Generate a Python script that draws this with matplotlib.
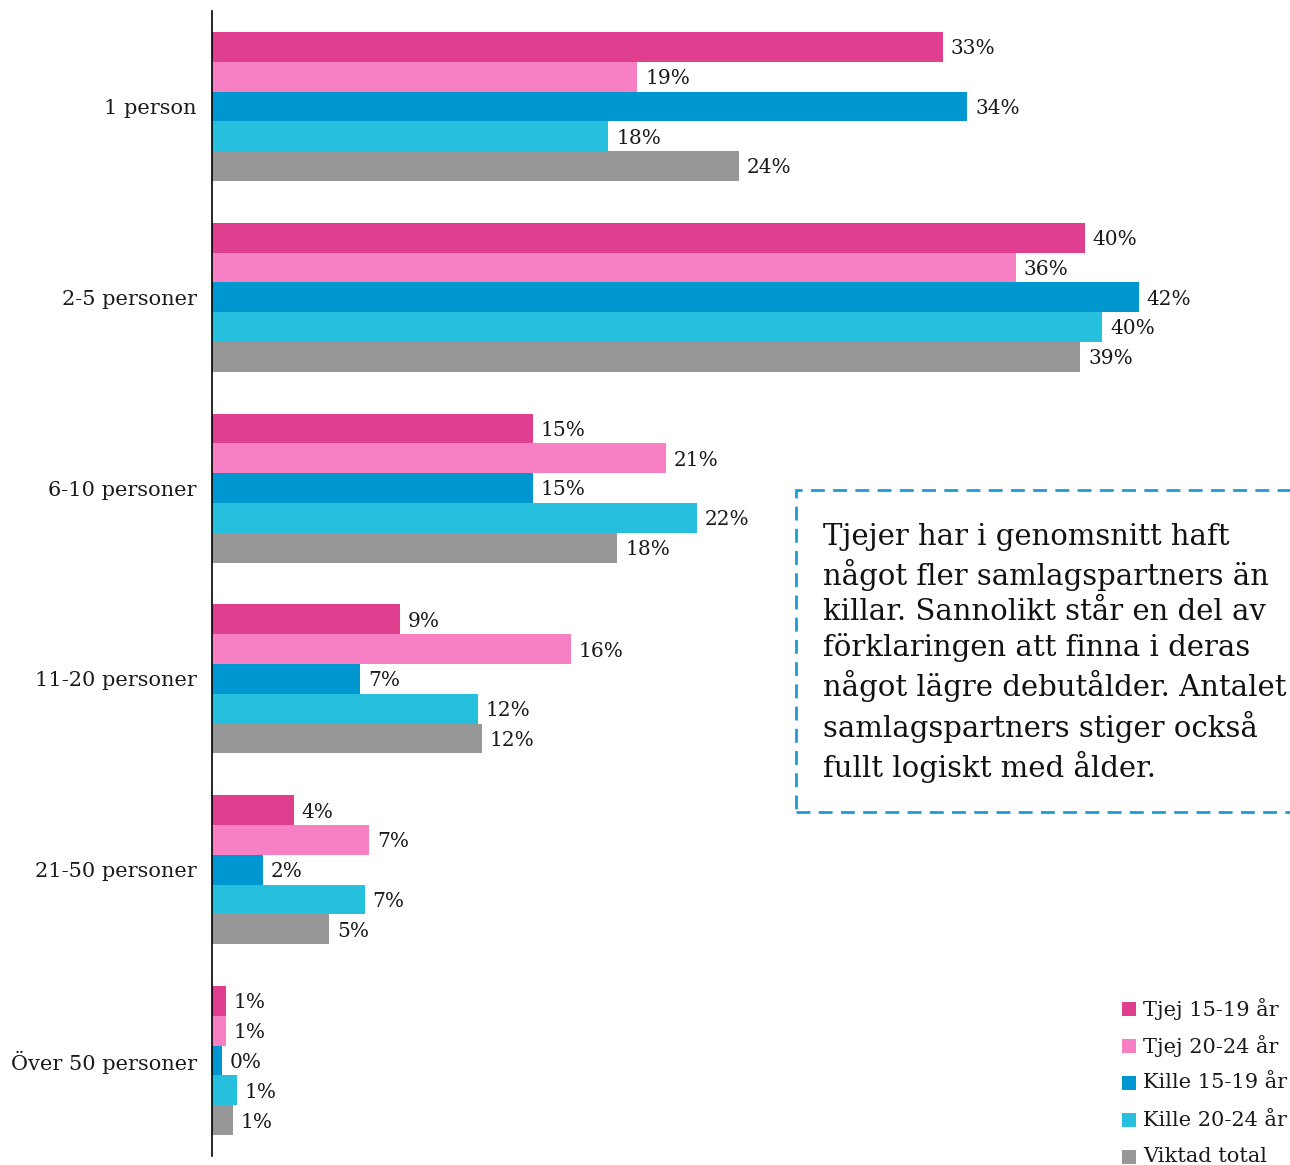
import numpy as np
import matplotlib.pyplot as plt
from matplotlib.patches import Rectangle

plt.rcParams['font.family'] = ['DejaVu Serif']

categories = ['1 person', '2-5 personer', '6-10 personer', '11-20 personer',
              '21-50 personer', 'Över 50 personer']
series = ['Tjej 15-19 år', 'Tjej 20-24 år', 'Kille 15-19 år', 'Kille 20-24 år', 'Viktad total']
colors = ['#E03E8F', '#F780C4', '#0096D0', '#26C0DE', '#979797']

# bar lengths (%)
tjej_1519 = [33.0, 39.4, 14.5, 8.5, 3.7, 0.63]
tjej_2024 = [19.2, 36.3, 20.5, 16.2, 7.1, 0.63]
kille_1519 = [34.1, 41.85, 14.5, 6.7, 2.3, 0.45]
kille_2024 = [17.9, 40.2, 21.9, 12.0, 6.9, 1.13]
viktad = [23.8, 39.2, 18.3, 12.2, 5.3, 0.95]

# printed labels
lab_tjej_1519 = ['33%', '40%', '15%', '9%', '4%', '1%']
lab_tjej_2024 = ['19%', '36%', '21%', '16%', '7%', '1%']
lab_kille_1519 = ['34%', '42%', '15%', '7%', '2%', '0%']
lab_kille_2024 = ['18%', '40%', '22%', '12%', '7%', '1%']
lab_viktad = ['24%', '39%', '18%', '12%', '5%', '1%']

values = [tjej_1519, tjej_2024, kille_1519, kille_2024, viktad]
labels = [lab_tjej_1519, lab_tjej_2024, lab_kille_1519, lab_kille_2024, lab_viktad]

W, H = 1290, 1165
fig = plt.figure(figsize=(W / 100, H / 100), dpi=100)
ax = fig.add_axes([212 / W, 9 / H, 1 - 212 / W, 1145 / H])

y = np.arange(len(categories))
bh = 0.156
for j, (vals, labs) in enumerate(zip(values, labels)):
    yy = y + (j - 2) * bh
    ax.barh(yy, vals, height=bh, color=colors[j], linewidth=0)
    for v, yi, t in zip(vals, yy, labs):
        ax.text(v + 0.35, yi + 0.01, t, va='center', ha='left', fontsize=14.5, color='#1a1a1a')

ax.set_xlim(0, (W - 212) / 22.15)
ax.set_ylim(5.5, -0.5)
ax.set_yticks(y)
ax.set_yticklabels(categories, fontsize=15, color='#1a1a1a')
ax.tick_params(axis='y', length=0, pad=11)
ax.set_xticks([])
for s in ['top', 'right', 'bottom']:
    ax.spines[s].set_visible(False)
ax.spines['left'].set_linewidth(1.2)

# dashed text box
fig.patches.append(Rectangle((796 / W, 1 - 812 / H), 600 / W, 322 / H,
                             transform=fig.transFigure, fill=False,
                             edgecolor='#1E9AD6', linewidth=2, linestyle=(0, (5, 3))))
note = ("Tjejer har i genomsnitt haft\n"
        "något fler samlagspartners än\n"
        "killar. Sannolikt står en del av\n"
        "förklaringen att finna i deras\n"
        "något lägre debutålder. Antalet\n"
        "samlagspartners stiger också\n"
        "fullt logiskt med ålder.")
fig.text(823 / W, 1 - 523 / H, note, fontsize=21, va='top', ha='left',
         color='#111111', linespacing=1.31)

# legend
for j, name in enumerate(series):
    yc = 1009 + j * 37
    fig.patches.append(Rectangle((1122 / W, 1 - (yc + 7) / H), 14 / W, 14 / H,
                                 transform=fig.transFigure, color=colors[j], linewidth=0))
    fig.text(1143 / W, 1 - yc / H, name, fontsize=15, va='center', ha='left', color='#1a1a1a')

fig.savefig('out.png', dpi=100)
